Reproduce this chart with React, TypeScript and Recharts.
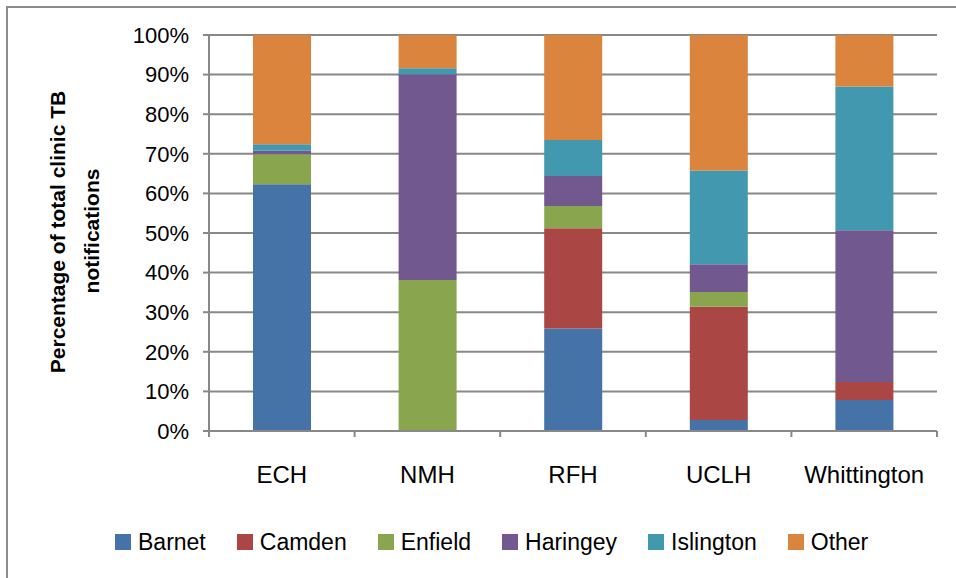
import React from 'react';
import { BarChart, Bar, XAxis, YAxis, CartesianGrid } from 'recharts';

const categories = ['ECH', 'NMH', 'RFH', 'UCLH', 'Whittington'];
const barnet = [62.3, 0, 25.9, 2.8, 7.8];
const camden = [0, 0, 25.3, 28.6, 4.6];
const enfield = [7.6, 38.1, 5.6, 3.7, 0];
const haringey = [0.9, 52.0, 7.6, 7.0, 38.3];
const islington = [1.6, 1.5, 9.1, 23.7, 36.3];
const other = [27.6, 8.4, 26.5, 34.2, 13.0];

const seriesNames = ['Barnet', 'Camden', 'Enfield', 'Haringey', 'Islington', 'Other'];
const seriesValues = [barnet, camden, enfield, haringey, islington, other];
const seriesColors = ['#4572A7', '#AA4643', '#89A54E', '#71588F', '#4198AF', '#DB843D'];

const yTicks = [0, 10, 20, 30, 40, 50, 60, 70, 80, 90, 100];
const boundaryTicks = [0, 0.5, 1, 1.5, 2, 2.5, 3, 3.5, 4, 4.5, 5];

const data = categories.map((c, i) => {
  const row: Record<string, any> = { name: c, pos: i + 0.5 };
  seriesNames.forEach((s, j) => {
    row[s] = seriesValues[j][i];
  });
  return row;
});

const FONT = '"Liberation Sans", Arial, sans-serif';
const GRID = '#888888';

const BoundaryTick = (props: any) => {
  const { x, y, payload } = props;
  const v = payload.value;
  if (Number.isInteger(v)) {
    return <line x1={x} x2={x} y1={y} y2={y + 6} stroke={GRID} strokeWidth={2} />;
  }
  return (
    <text x={x} y={y + 43} textAnchor="middle" dominantBaseline="central" fontFamily={FONT} fontSize={24} fill="#000">
      {categories[Math.floor(v)]}
    </text>
  );
};

const YTitle = () => (
  <g>
    <text transform="translate(57,232) rotate(-90)" textAnchor="middle" dominantBaseline="central" fontFamily={FONT} fontWeight="bold" fontSize={21} fill="#000">
      Percentage of total clinic TB
    </text>
    <text transform="translate(91,231) rotate(-90)" textAnchor="middle" dominantBaseline="central" fontFamily={FONT} fontWeight="bold" fontSize={21} fill="#000">
      notifications
    </text>
  </g>
);

export default function App() {
  return (
    <div style={{ position: 'absolute', left: 0, top: 0, width: 956, height: 578, overflow: 'hidden', background: '#fff', fontFamily: FONT }}>
      <div style={{ position: 'absolute', left: 6, top: 6, width: 1000, height: 1000, border: '2px solid #8c8c8c', boxSizing: 'border-box' }} />
      <div style={{ position: 'absolute', left: 0, top: 0 }}>
        <BarChart width={956} height={578} data={data} margin={{ top: 35, right: 19, bottom: 87, left: 0 }}>
          <CartesianGrid vertical={false} stroke={GRID} strokeWidth={2} />
          <XAxis
            dataKey="pos"
            type="number"
            domain={[0, 5]}
            ticks={boundaryTicks}
            interval={0}
            allowDataOverflow
            height={60}
            tickSize={0}
            tickMargin={0}
            tickLine={false}
            axisLine={{ stroke: GRID, strokeWidth: 2 }}
            tick={<BoundaryTick />}
          />
          <YAxis
            width={209}
            domain={[0, 100]}
            ticks={yTicks}
            interval={0}
            tickFormatter={(v: number) => `${v}%`}
            tickSize={6}
            tickMargin={14}
            tickLine={{ stroke: GRID, strokeWidth: 2 }}
            axisLine={{ stroke: GRID, strokeWidth: 2 }}
            tick={{ fontFamily: FONT, fontSize: 22, fill: '#000' }}
            label={<YTitle />}
          />
          {seriesNames.map((s, j) => (
            <Bar key={s} dataKey={s} stackId="a" barSize={58} fill={seriesColors[j]} isAnimationActive={false} />
          ))}
        </BarChart>
      </div>
      <div style={{ position: 'absolute', left: 115, top: 527, display: 'flex', alignItems: 'center', height: 30 }}>
        {seriesNames.map((s, j) => (
          <div key={s} style={{ display: 'flex', alignItems: 'center', marginRight: 31 }}>
            <div style={{ width: 16, height: 16, background: seriesColors[j], marginRight: 7 }} />
            <span style={{ fontSize: 23, color: '#000', fontFamily: FONT }}>{s}</span>
          </div>
        ))}
      </div>
    </div>
  );
}
